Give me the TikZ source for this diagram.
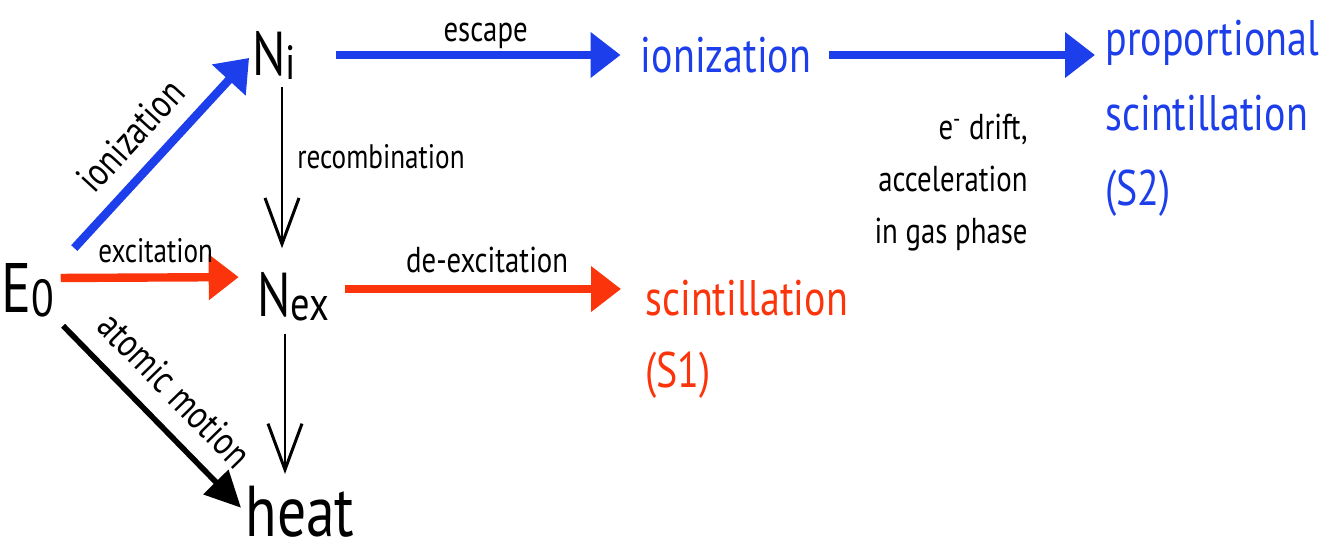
\documentclass[tikz,border=0pt]{standalone}
\usepackage{fontspec}
\setmainfont{PT Sans}[FakeStretch=0.8]
\usetikzlibrary{arrows.meta,calc}
\definecolor{skblue}{RGB}{28,62,235}
\definecolor{skred}{RGB}{252,52,12}
\newcommand{\lowsub}[2]{{\fontsize{#1}{#1}\selectfont\raisebox{-2pt}{#2}}}
\begin{document}
\begin{tikzpicture}[x=0.5pt,y=-0.5pt,
  bigtxt/.style={font=\fontsize{31}{33}\selectfont, inner sep=0pt},
  lbl/.style={font=\fontsize{17}{20}\selectfont, inner sep=2pt, text=black},
  rlbl/.style={font=\fontsize{20}{22}\selectfont, inner sep=2pt, text=black},
  coltxt/.style={font=\fontsize{25}{37.5}\selectfont, inner sep=0pt},
  carrow/.style={line width=4.2pt, -{Triangle[length=15pt,width=22pt]}},
  vdarrow/.style={line width=1.3pt, -{Straight Barb[length=23pt,width=17pt,line width=1.5pt]}},
  motarrow/.style={line width=2.8pt, -{Triangle[length=18pt,width=17pt]}}
]
\useasboundingbox (0,0) rectangle (1327,553);
\fill[white] (0,0) rectangle (1327,553);

\node[bigtxt, font=\fontsize{35}{37}\selectfont] (E0) at (28,290) {E\lowsub{26}{0}};
\node[bigtxt] (Ni) at (274,55) {N\lowsub{24}{i}};
\node[bigtxt] (Nex) at (293,297) {N\lowsub{24}{ex}};
\node[bigtxt, font=\fontsize{36}{38}\selectfont] (heat) at (300,512) {heat};
\node[coltxt, text=skblue] (ion) at (726,55) {ionization};
\node[coltxt, text=skblue, align=left, anchor=north west] (prop) at (1105,20) {proportional\\scintillation\\(S2)};
\node[coltxt, text=skred, align=left, anchor=north west, font=\fontsize{25}{36}\selectfont] (scint) at (645,280) {scintillation\\(S1)};
\node[lbl, align=right, anchor=north east, font=\fontsize{18}{26}\selectfont] (drift) at (1032,110) {e\textsuperscript{-} drift,\\acceleration\\in gas phase};

\draw[carrow, skblue, shorten <=10pt, shorten >=2pt] ([xshift=3pt]E0.north east) -- (Ni.west)
  node[midway, above=6pt, sloped, rlbl]{ionization};
\draw[carrow, skred, shorten <=3pt, shorten >=9pt] ([yshift=6pt]E0.east) -- ([yshift=10pt]Nex.west)
  node[midway, above=3pt, lbl]{excitation};
\draw[carrow, skblue, shorten <=20pt, shorten >=10pt] (Ni) -- (ion)
  node[pos=0.55, above=-1pt, lbl, font=\fontsize{18}{20}\selectfont]{escape};
\draw[carrow, skblue, shorten <=9pt, shorten >=5pt] (ion) -- (ion -| prop.west);
\draw[carrow, skred, shorten <=8pt, shorten >=12pt] ([yshift=4pt]Nex.east) -- ([yshift=4pt]Nex.east -| scint.west)
  node[midway, above=4pt, lbl, font=\fontsize{18}{20}\selectfont]{de-excitation};
\draw[vdarrow, shorten <=4pt, shorten >=12pt] ([xshift=4pt]Ni.south) -- ([xshift=4pt]Ni.south |- Nex.north)
  node[pos=0.4, right=5pt, lbl]{recombination};
\draw[vdarrow, shorten <=6pt, shorten >=6pt] ([xshift=-4pt]Nex.south) -- ([xshift=-4pt]Nex.south |- heat.north);
\draw[motarrow, shorten <=6pt, shorten >=3pt] (E0.south east) -- (heat.west)
  node[midway, above=7pt, sloped, rlbl]{atomic motion};
\end{tikzpicture}
\end{document}
